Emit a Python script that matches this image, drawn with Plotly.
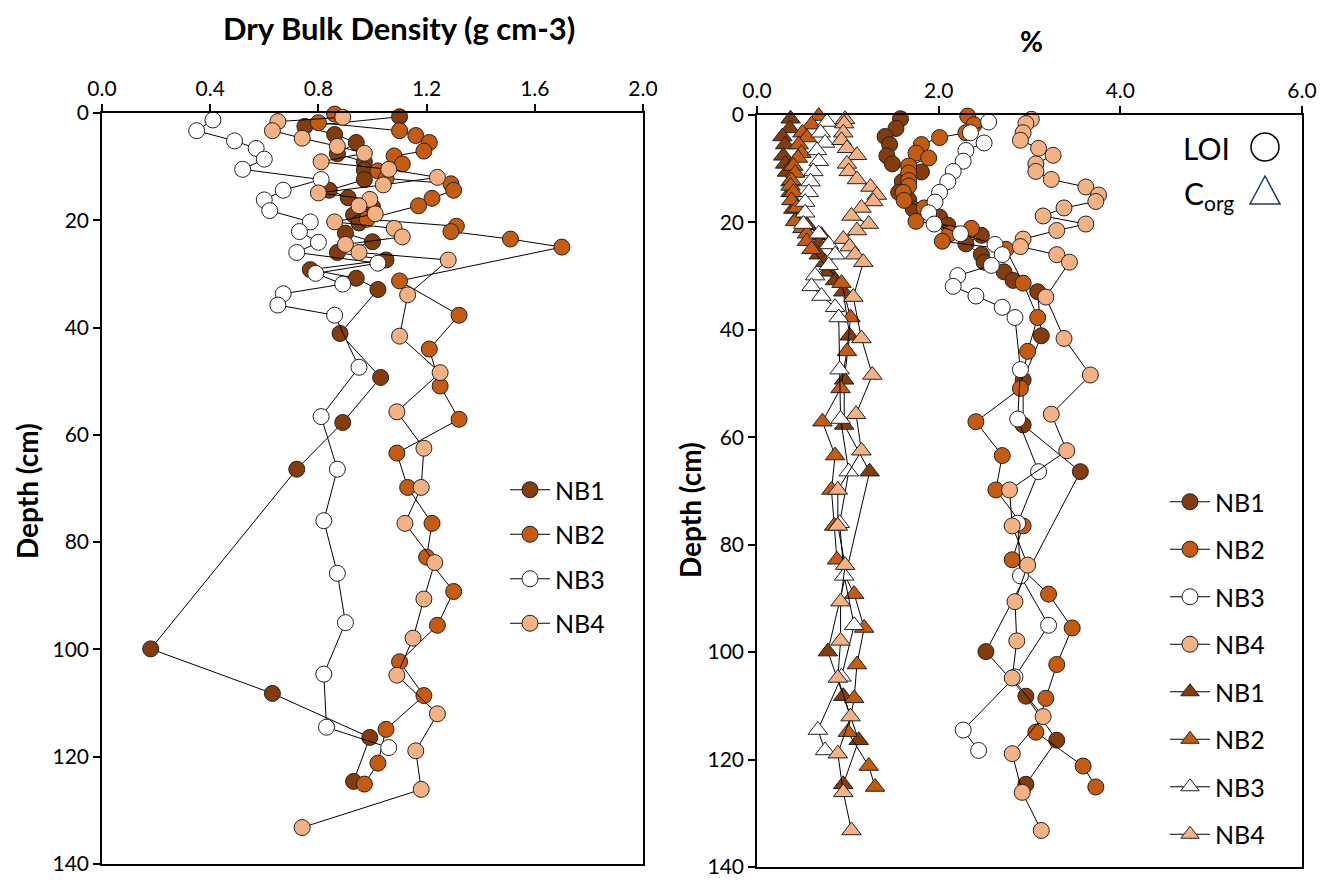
import plotly.graph_objects as go

# ---------------- data ----------------
depth_nb1 = [0.7, 2.5, 4.0, 5.5, 7.6, 9.1, 10.6, 12.4, 14.4, 15.8, 17.5, 19.0, 20.5, 22.4, 24.0,
             26.0, 27.4, 29.2, 30.8, 32.9, 41.1, 49.3, 57.7, 66.4, 99.9, 108.2, 116.4, 124.6]
dbd_nb1 = [1.10, 0.75, 0.86, 0.94, 0.87, 0.97, 0.97, 0.97, 0.84, 0.91, 1.00, 0.93, 0.95, 0.90, 1.00,
           0.87, 1.05, 0.77, 0.94, 1.02, 0.88, 1.03, 0.89, 0.72, 0.18, 0.63, 0.99, 0.93]
loi_nb1 = [1.58, 1.53, 1.41, 1.46, 1.43, 1.49, 1.81, 1.60, 1.56, 1.67, 1.72, 2.01, 2.10, 2.47, 2.30,
           2.47, 2.50, 2.72, 2.82, 3.09, 3.13, 2.93, 2.93, 3.56, 2.52, 2.96, 3.30, 2.96]
corg_nb1 = [0.37, 0.36, 0.28, 0.31, 0.29, 0.31, 0.33, 0.37, 0.37, 0.39, 0.40, 0.45, 0.55, 0.71, 0.68,
            0.68, 0.75, 0.79, 0.86, 0.95, 1.02, 0.96, 0.96, 1.24, 0.78, 0.95, 1.12, 0.95]

depth_nb2 = [0.2, 1.8, 3.3, 4.2, 5.5, 7.1, 8.0, 9.5, 10.8, 12.2, 13.2, 14.4, 15.9, 17.3, 19.8, 21.1,
             22.1, 23.5, 25.0, 31.3, 37.7, 44.0, 50.9, 57.1, 63.4, 69.8, 76.5, 82.8, 89.2, 95.5,
             102.3, 108.6, 114.9, 121.2, 125.1]
dbd_nb2 = [0.86, 0.80, 1.10, 1.16, 1.21, 1.19, 1.08, 1.11, 1.02, 1.05, 1.29, 1.30, 1.22, 1.17, 0.98, 1.31,
           1.29, 1.51, 1.70, 1.10, 1.32, 1.21, 1.25, 1.32, 1.09, 1.13, 1.22, 1.20, 1.30, 1.24,
           1.10, 1.19, 1.05, 1.02, 0.97]
loi_nb2 = [2.32, 2.39, 2.30, 2.01, 1.81, 1.75, 1.89, 1.67, 1.67, 1.67, 1.67, 1.61, 1.62, 1.84, 1.75, 2.36,
           2.12, 2.04, 2.74, 2.93, 3.09, 2.98, 2.90, 2.41, 2.70, 2.63, 2.93, 2.81, 3.21, 3.47,
           3.30, 3.18, 3.07, 3.59, 3.73]
corg_nb2 = [0.68, 0.60, 0.50, 0.55, 0.46, 0.49, 0.45, 0.40, 0.42, 0.38, 0.37, 0.40, 0.38, 0.44, 0.42, 0.50,
            0.55, 0.55, 0.60, 0.93, 1.03, 0.99, 0.92, 0.72, 0.86, 0.82, 0.85, 0.88, 1.07, 1.18,
            1.10, 1.07, 1.00, 1.23, 1.30]

depth_nb3 = [1.3, 3.3, 5.2, 6.6, 8.6, 10.5, 12.4, 14.4, 16.2, 18.2, 20.3, 22.1, 24.1, 26.0, 28.0,
             29.9, 31.9, 33.7, 35.8, 37.7, 47.4, 56.6, 66.4, 76.0, 85.8, 95.0, 104.6, 114.5, 118.3]
dbd_nb3 = [0.41, 0.35, 0.49, 0.57, 0.60, 0.52, 0.81, 0.67, 0.60, 0.62, 0.77, 0.73, 0.80, 0.72, 1.02,
           0.79, 0.89, 0.67, 0.65, 0.86, 0.95, 0.81, 0.87, 0.82, 0.87, 0.90, 0.82, 0.83, 1.06]
loi_nb3 = [2.55, 2.35, 2.50, 2.30, 2.27, 2.16, 2.10, 2.01, 1.96, 1.89, 1.95, 2.24, 2.62, 2.70, 2.58,
           2.21, 2.16, 2.41, 2.70, 2.84, 2.90, 2.87, 3.10, 2.87, 2.90, 3.21, 2.84, 2.27, 2.44]
corg_nb3 = [0.77, 0.70, 0.75, 0.66, 0.68, 0.62, 0.59, 0.57, 0.53, 0.53, 0.51, 0.68, 0.79, 0.86, 0.79,
            0.64, 0.60, 0.71, 0.86, 0.90, 0.91, 0.92, 1.01, 0.91, 0.96, 1.07, 0.93, 0.67, 0.75]

depth_nb4 = [0.8, 1.6, 3.3, 4.7, 6.2, 7.5, 9.1, 10.5, 12.0, 13.4, 14.9, 16.1, 17.3, 18.8, 20.3, 21.5,
             23.1, 24.5, 26.0, 27.4, 33.9, 41.6, 48.4, 55.7, 62.5, 69.8, 76.5, 83.8, 90.6, 97.9,
             104.8, 112.0, 118.9, 126.1, 133.2]
dbd_nb4 = [0.89, 0.65, 0.63, 0.74, 0.87, 0.97, 0.81, 1.06, 1.24, 1.04, 0.80, 0.99, 0.95, 1.01, 0.86, 1.08,
           1.11, 0.90, 0.95, 1.28, 1.13, 1.10, 1.25, 1.09, 1.19, 1.18, 1.12, 1.23, 1.19, 1.15,
           1.09, 1.24, 1.16, 1.18, 0.74]
loi_nb4 = [3.02, 2.96, 2.93, 2.90, 3.10, 3.26, 3.07, 3.07, 3.24, 3.62, 3.76, 3.73, 3.38, 3.15, 3.62, 3.30,
           2.93, 2.90, 3.30, 3.44, 3.18, 3.38, 3.67, 3.24, 3.41, 2.78, 2.81, 2.98, 2.84, 2.86,
           2.81, 3.15, 2.81, 2.92, 3.13]
corg_nb4 = [0.97, 0.96, 0.95, 0.93, 0.99, 1.10, 0.99, 1.01, 1.10, 1.25, 1.32, 1.28, 1.15, 1.04, 1.23, 1.10,
            0.95, 1.02, 1.08, 1.17, 1.06, 1.15, 1.27, 1.09, 1.15, 0.89, 0.89, 0.97, 0.92, 0.92,
            0.89, 1.03, 0.89, 0.95, 1.04]

core_names = ["NB1", "NB2", "NB3", "NB4"]
core_colors = ["#843C0C", "#C55A11", "#FFFFFF", "#F4B183"]
depths = [depth_nb1, depth_nb2, depth_nb3, depth_nb4]
dbd = [dbd_nb1, dbd_nb2, dbd_nb3, dbd_nb4]
loi = [loi_nb1, loi_nb2, loi_nb3, loi_nb4]
corg = [corg_nb1, corg_nb2, corg_nb3, corg_nb4]

left_xticks = [0.0, 0.4, 0.8, 1.2, 1.6, 2.0]
right_xticks = [0.0, 2.0, 4.0, 6.0]
depth_ticks = [0, 20, 40, 60, 80, 100, 120, 140]

# ---------------- layout helpers ----------------
W, H = 1338, 885
FONT = "Lato"


def fx(px):
    return px / W


def fy(py):
    return 1 - py / H


fig = go.Figure()

# Left panel: dry bulk density
for i in range(4):
    fig.add_trace(go.Scatter(
        x=dbd[i], y=depths[i], mode="lines+markers", name=core_names[i],
        xaxis="x", yaxis="y", legend="legend", legendgroup="l%d" % i,
        line=dict(color="#000000", width=1),
        marker=dict(symbol="circle", size=16, color=core_colors[i],
                    line=dict(color="#222222", width=1)),
        cliponaxis=False))

# Right panel: LOI (circles)
for i in range(4):
    fig.add_trace(go.Scatter(
        x=loi[i], y=depths[i], mode="lines+markers", name=core_names[i],
        xaxis="x2", yaxis="y2", legend="legend2", legendgroup="r%d" % i,
        line=dict(color="#000000", width=1),
        marker=dict(symbol="circle", size=16, color=core_colors[i],
                    line=dict(color="#222222", width=1)),
        cliponaxis=False))

# Right panel: Corg (triangles)
for i in range(4):
    fig.add_trace(go.Scatter(
        x=corg[i], y=depths[i], mode="lines+markers", name=core_names[i],
        xaxis="x2", yaxis="y2", legend="legend2", legendgroup="t%d" % i,
        line=dict(color="#000000", width=1),
        marker=dict(symbol="triangle-up", size=17, color=core_colors[i],
                    line=dict(color="#222222", width=1)),
        cliponaxis=False))

axis_common = dict(showline=True, linecolor="#000000", linewidth=1.5, mirror=True,
                   ticks="outside", ticklen=7, tickwidth=1.5, tickcolor="#000000",
                   showgrid=False, zeroline=False, automargin=False,
                   tickfont=dict(family=FONT, size=21, color="#000000"))

fig.update_layout(
    width=W, height=H,
    margin=dict(l=0, r=0, t=0, b=0, autoexpand=False),
    paper_bgcolor="#FFFFFF", plot_bgcolor="#FFFFFF",
    xaxis=dict(domain=[fx(102), fx(643)], range=[0, 2.0], side="top", anchor="y",
               tickvals=left_xticks, ticktext=["%.1f" % v for v in left_xticks], **axis_common),
    yaxis=dict(domain=[fy(864), fy(113)], range=[140, 0], anchor="x",
               tickvals=depth_ticks, **axis_common),
    xaxis2=dict(domain=[fx(757), fx(1302)], range=[0, 6.0], side="top", anchor="y2",
                tickvals=right_xticks, ticktext=["%.1f" % v for v in right_xticks], **axis_common),
    yaxis2=dict(domain=[fy(867), fy(115)], range=[140, 0], anchor="x2",
                tickvals=depth_ticks, **axis_common),
    legend=dict(x=fx(505), y=fy(467), xanchor="left", yanchor="top",
                font=dict(family=FONT, size=25, color="#000000"),
                bgcolor="rgba(0,0,0,0)", tracegroupgap=9, itemwidth=40),
    legend2=dict(x=fx(1165), y=fy(479), xanchor="left", yanchor="top",
                 font=dict(family=FONT, size=25, color="#000000"),
                 bgcolor="rgba(0,0,0,0)", tracegroupgap=12, itemwidth=40),
    showlegend=True,
)

annots = [
    dict(text="<b>Dry Bulk Density (g cm-3)</b>", x=fx(399), y=fy(28), xref="paper", yref="paper",
         xanchor="center", yanchor="middle",
         showarrow=False, font=dict(family=FONT, size=31, color="#000000")),
    dict(text="<b>%</b>", x=fx(1031), y=fy(41), xref="paper", yref="paper",
         xanchor="center", yanchor="middle",
         showarrow=False, font=dict(family=FONT, size=28, color="#000000")),
    dict(text="<b>Depth (cm)</b>", x=fx(27), y=fy(491), xref="paper", yref="paper", textangle=-90,
         xanchor="center", yanchor="middle",
         showarrow=False, font=dict(family=FONT, size=28, color="#000000")),
    dict(text="<b>Depth (cm)</b>", x=fx(690), y=fy(510), xref="paper", yref="paper", textangle=-90,
         xanchor="center", yanchor="middle",
         showarrow=False, font=dict(family=FONT, size=28, color="#000000")),
    dict(text="LOI", x=fx(1232), y=fy(148), xref="paper", yref="paper", xanchor="right",
         yanchor="middle",
         showarrow=False, font=dict(family=FONT, size=30, color="#000000")),
    dict(text="C<sub>org</sub>", x=fx(1236), y=fy(195), xref="paper", yref="paper", xanchor="right",
         yanchor="middle",
         showarrow=False, font=dict(family=FONT, size=30, color="#000000")),
]
fig.update_layout(annotations=annots)

# Key symbols for LOI / Corg
cx, cy, r = 1265, 147, 14
fig.add_shape(type="circle", xref="paper", yref="paper",
              x0=fx(cx - r), x1=fx(cx + r), y0=fy(cy + r), y1=fy(cy - r),
              line=dict(color="#000000", width=1.5), fillcolor="rgba(0,0,0,0)")
tx, ty = 1265, 191
fig.add_shape(type="path", xref="paper", yref="paper",
              path="M %f %f L %f %f L %f %f Z" % (fx(tx - 15), fy(ty + 13), fx(tx + 15), fy(ty + 13),
                                                    fx(tx), fy(ty - 15)),
              line=dict(color="#1F3864", width=1.5), fillcolor="rgba(0,0,0,0)")

fig.write_html("out.html")
